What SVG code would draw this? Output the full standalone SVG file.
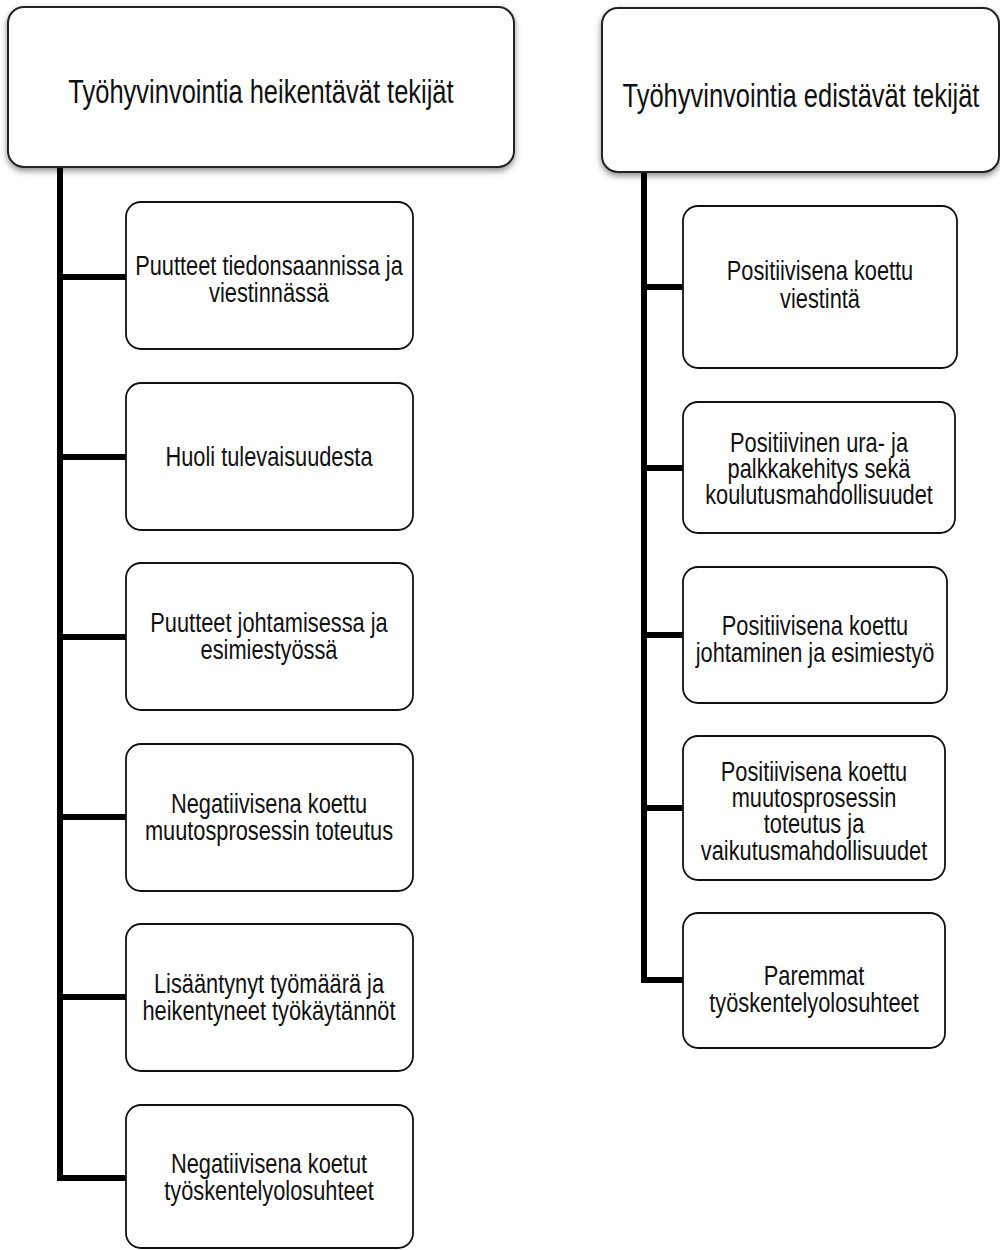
<svg xmlns="http://www.w3.org/2000/svg" width="1000" height="1250" viewBox="0 0 1000 1250">
<style>
.hdr{fill:#fff;stroke:#222;stroke-width:2;}
.box{fill:#fff;stroke:#111;stroke-width:1.8;}
.conn{fill:none;stroke:#000;stroke-width:6;stroke-linejoin:miter;stroke-linecap:butt;}
.ht{font-family:"Liberation Sans",Arial,sans-serif;font-size:25.5px;fill:#111;text-anchor:middle;}
.bt{font-family:"Liberation Sans",Arial,sans-serif;font-size:21.8px;fill:#111;text-anchor:middle;}
</style>
<defs>
<filter id="sh" x="-5%" y="-10%" width="110%" height="125%">
<feDropShadow dx="0" dy="3" stdDeviation="3" flood-color="#000" flood-opacity="0.45"/>
</filter>
</defs>
<rect width="1000" height="1250" fill="#fff"/>

<g id="connectors">
<path class="conn" d="M60,166 V1178 H126"/>
<line class="conn" x1="60" y1="277" x2="126" y2="277"/>
<line class="conn" x1="60" y1="457" x2="126" y2="457"/>
<line class="conn" x1="60" y1="637" x2="126" y2="637"/>
<line class="conn" x1="60" y1="817" x2="126" y2="817"/>
<line class="conn" x1="60" y1="997" x2="126" y2="997"/>
<path class="conn" d="M644,171 V980 H684"/>
<line class="conn" x1="644" y1="287" x2="684" y2="287"/>
<line class="conn" x1="644" y1="468" x2="684" y2="468"/>
<line class="conn" x1="644" y1="635" x2="684" y2="635"/>
<line class="conn" x1="644" y1="808" x2="684" y2="808"/>
</g>

<g id="hdr-left">
<rect class="hdr" x="8" y="7" width="506" height="160" rx="16" filter="url(#sh)"/>
<text class="ht" transform="matrix(1 0 0 1.28 261 103)">Työhyvinvointia heikentävät tekijät</text>
</g>
<g id="hdr-right">
<rect class="hdr" x="602" y="8" width="397" height="164" rx="16" filter="url(#sh)"/>
<text class="ht" transform="matrix(1 0 0 1.28 801 107)">Työhyvinvointia edistävät tekijät</text>
</g>

<g id="l1">
<rect class="box" x="126" y="202" width="287" height="147" rx="15"/>
<text class="bt" transform="matrix(1 0 0 1.25 269 275)"><tspan x="0" y="0">Puutteet tiedonsaannissa ja</tspan><tspan x="0" dy="22">viestinnässä</tspan></text>
</g>
<g id="l2">
<rect class="box" x="126" y="383" width="287" height="147" rx="15"/>
<text class="bt" transform="matrix(1 0 0 1.25 269 465.5)">Huoli tulevaisuudesta</text>
</g>
<g id="l3">
<rect class="box" x="126" y="563" width="287" height="147" rx="15"/>
<text class="bt" transform="matrix(1 0 0 1.25 269 631.5)"><tspan x="0" y="0">Puutteet johtamisessa ja</tspan><tspan x="0" dy="22">esimiestyössä</tspan></text>
</g>
<g id="l4">
<rect class="box" x="126" y="744" width="287" height="147" rx="15"/>
<text class="bt" transform="matrix(1 0 0 1.25 269 812.5)"><tspan x="0" y="0">Negatiivisena koettu</tspan><tspan x="0" dy="22">muutosprosessin toteutus</tspan></text>
</g>
<g id="l5">
<rect class="box" x="126" y="924" width="287" height="147" rx="15"/>
<text class="bt" transform="matrix(1 0 0 1.25 269 992.5)"><tspan x="0" y="0">Lisääntynyt työmäärä ja</tspan><tspan x="0" dy="22">heikentyneet työkäytännöt</tspan></text>
</g>
<g id="l6">
<rect class="box" x="126" y="1105" width="287" height="143" rx="15"/>
<text class="bt" transform="matrix(1 0 0 1.25 269 1172.5)"><tspan x="0" y="0">Negatiivisena koetut</tspan><tspan x="0" dy="22">työskentelyolosuhteet</tspan></text>
</g>

<g id="r1">
<rect class="box" x="683" y="206" width="274" height="162" rx="15"/>
<text class="bt" transform="matrix(1 0 0 1.25 820 280)"><tspan x="0" y="0">Positiivisena koettu</tspan><tspan x="0" dy="22.4">viestintä</tspan></text>
</g>
<g id="r2">
<rect class="box" x="683" y="402" width="272" height="131" rx="15"/>
<text class="bt" transform="matrix(1 0 0 1.25 819 451.5)"><tspan x="0" y="0">Positiivinen ura- ja</tspan><tspan x="0" dy="21.2">palkkakehitys sekä</tspan><tspan x="0" dy="21.2">koulutusmahdollisuudet</tspan></text>
</g>
<g id="r3">
<rect class="box" x="683" y="567" width="264" height="136" rx="15"/>
<text class="bt" transform="matrix(1 0 0 1.25 815 635)"><tspan x="0" y="0">Positiivisena koettu</tspan><tspan x="0" dy="21.4">johtaminen ja esimiestyö</tspan></text>
</g>
<g id="r4">
<rect class="box" x="683" y="736" width="262" height="144" rx="15"/>
<text class="bt" transform="matrix(1 0 0 1.25 814 781)"><tspan x="0" y="0">Positiivisena koettu</tspan><tspan x="0" dy="21">muutosprosessin</tspan><tspan x="0" dy="21">toteutus ja</tspan><tspan x="0" dy="21">vaikutusmahdollisuudet</tspan></text>
</g>
<g id="r5">
<rect class="box" x="683" y="913" width="262" height="135" rx="15"/>
<text class="bt" transform="matrix(1 0 0 1.25 814 985)"><tspan x="0" y="0">Paremmat</tspan><tspan x="0" dy="21.4">työskentelyolosuhteet</tspan></text>
</g>
</svg>
